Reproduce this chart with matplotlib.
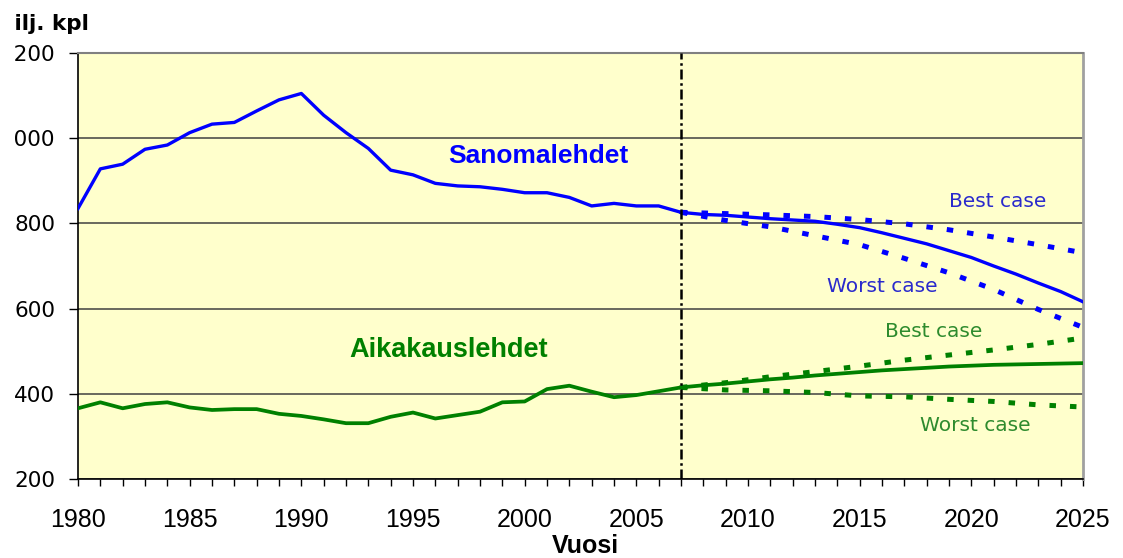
import numpy as np
import matplotlib
matplotlib.use("Agg")
import matplotlib.pyplot as plt
from matplotlib.transforms import Bbox, TransformedBbox

# historia 1980-2007
vuodet = list(range(1980, 2008))
sanomalehdet = [835, 928, 939, 974, 984, 1013, 1033, 1037, 1064, 1090, 1105, 1054, 1013, 976,
                925, 914, 894, 888, 886, 880, 872, 872, 861, 841, 847, 841, 841, 826]
aikakauslehdet = [366, 380, 366, 376, 380, 368, 362, 364, 364, 353, 348, 340, 331, 331,
                  346, 356, 342, 350, 358, 380, 382, 411, 419, 405, 392, 397, 406, 415]

# ennuste 2007-2025
ennuste_v = list(range(2007, 2026))
sano_ennuste = [826, 821, 819, 815, 811, 808, 805, 798, 790, 778, 765, 752, 736, 720, 700,
                681, 660, 640, 616]
aika_ennuste = [415, 420, 424, 429, 434, 438, 443, 447, 451, 455, 458, 461, 464, 466, 468,
                469, 470, 471, 472]

skenaario_v = [2007, 2009, 2011, 2013, 2015, 2017, 2019, 2021, 2023, 2025]
sano_best = [826, 823, 820, 816, 809, 799, 785, 768, 750, 731]
sano_worst = [826, 807, 792, 771, 750, 718, 684, 645, 598, 556]
aika_best = [415, 426, 440, 452, 465, 479, 491, 503, 516, 531]
aika_worst = [415, 409, 407, 403, 395, 393, 387, 382, 374, 369]

yticks = [200, 400, 600, 800, 1000, 1200]
xticks = [1980, 1985, 1990, 1995, 2000, 2005, 2010, 2015, 2020, 2025]

sininen = '#0000FF'
vihrea = '#008000'
sin_teksti = '#2A2ACC'
vih_teksti = '#2E8B2E'

fig = plt.figure(figsize=(11.23, 5.58), dpi=100)
ax = fig.add_axes([78/1123, 79/558, 1005/1123, 426/558])
ax.set_facecolor('#FFFFCC')

ax.plot(vuodet, sanomalehdet, color=sininen, lw=2.4, zorder=4)
ax.plot(ennuste_v, sano_ennuste, color=sininen, lw=2.4, zorder=4)
ax.plot(skenaario_v, sano_best, color=sininen, lw=3.6, dashes=(1.3, 2.8), zorder=3)
ax.plot(skenaario_v, sano_worst, color=sininen, lw=3.6, dashes=(1.3, 2.8), zorder=3)

ax.plot(vuodet, aikakauslehdet, color=vihrea, lw=2.7, zorder=4)
ax.plot(ennuste_v, aika_ennuste, color=vihrea, lw=2.7, zorder=4)
ax.plot(skenaario_v, aika_best, color=vihrea, lw=3.6, dashes=(1.3, 2.8), zorder=3)
ax.plot(skenaario_v, aika_worst, color=vihrea, lw=3.6, dashes=(1.3, 2.8), zorder=3)

ax.axvline(2007, color='black', lw=1.8, linestyle=(0, (4, 1.5, 1, 1.5)), zorder=5)

ax.set_xlim(1980, 2025)
ax.set_ylim(200, 1200)
ax.set_yticks(yticks)
ax.set_xticks(xticks)
ax.set_xticks(range(1980, 2026), minor=True)
ax.grid(axis='y', color='#404040', lw=1.1)
ax.set_axisbelow(True)

ax.tick_params(axis='y', direction='out', length=6.5, width=1, pad=10,
               labelsize=15.5, labelfontfamily='DejaVu Sans')
ax.tick_params(axis='x', which='both', direction='out', length=4.8, width=1)
ax.tick_params(axis='x', which='major', pad=16, labelsize=18,
               labelfontfamily='Liberation Sans')

for s in ['left', 'bottom']:
    ax.spines[s].set_color('black')
    ax.spines[s].set_linewidth(1.2)
ax.spines['top'].set_color('#808080')
ax.spines['top'].set_linewidth(1.5)
ax.spines['right'].set_color('#A0A0A0')
ax.spines['right'].set_linewidth(2)

# vasen reuna leikattu kuten alkuperäisessä kuvassa
leikkaus = TransformedBbox(Bbox.from_extents(14/1123, 0, 1, 1), fig.transFigure)
for lab in ax.get_yticklabels():
    lab.set_clip_box(leikkaus)
    lab.set_clip_on(True)

ax.text(2000.6, 942, 'Sanomalehdet', color=sininen, fontsize=19, fontweight='bold',
        family='Liberation Sans', ha='center', va='baseline')
ax.text(1996.6, 486, 'Aikakauslehdet', color=vihrea, fontsize=19.5, fontweight='bold',
        family='Liberation Sans', ha='center', va='baseline')
ax.text(2021.2, 838, 'Best case', color=sin_teksti, fontsize=14.5, family='DejaVu Sans',
        ha='center', va='baseline')
ax.text(2016.0, 640, 'Worst case', color=sin_teksti, fontsize=14.5, family='DejaVu Sans',
        ha='center', va='baseline')
ax.text(2018.3, 534, 'Best case', color=vih_teksti, fontsize=14.5, family='DejaVu Sans',
        ha='center', va='baseline')
ax.text(2020.2, 313, 'Worst case', color=vih_teksti, fontsize=14.5, family='DejaVu Sans',
        ha='center', va='baseline')

t = fig.text(89/1123, 1 - 30/558, 'Milj. kpl', fontsize=15.5, fontweight='bold',
             family='DejaVu Sans', ha='right', va='baseline')
t.set_clip_box(leikkaus)
t.set_clip_on(True)

fig.text(585/1123, 1 - 553/558, 'Vuosi', fontsize=18, fontweight='bold',
         family='Liberation Sans', ha='center', va='baseline')

fig.savefig('out.png', dpi=100, facecolor='white')
